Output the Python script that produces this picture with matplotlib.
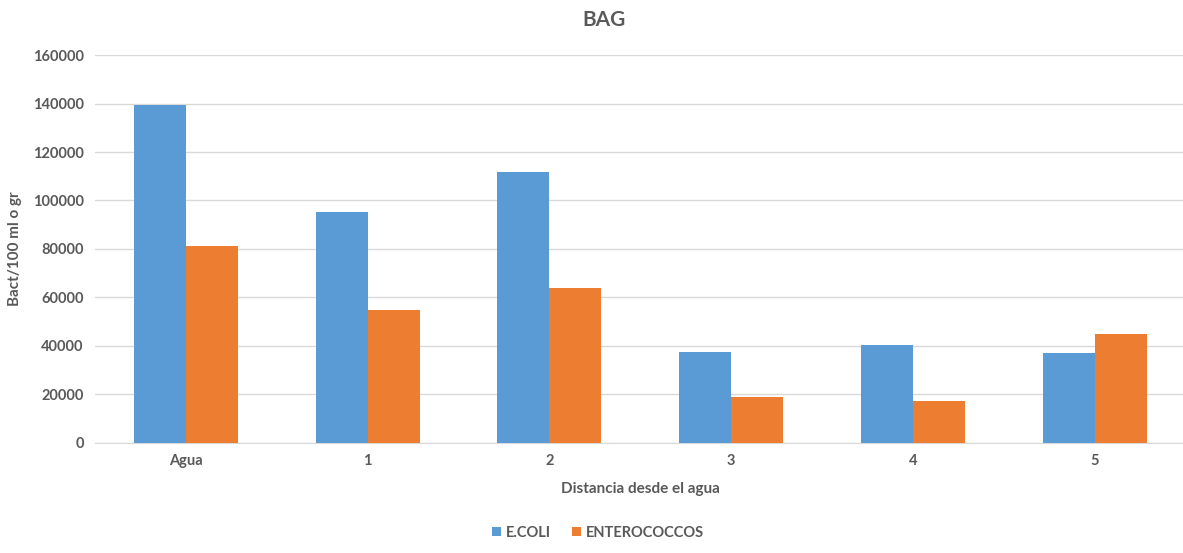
import matplotlib.pyplot as plt
import numpy as np

# Datos
categorias = ["Agua", "1", "2", "3", "4", "5"]
ecoli = [139200, 95400, 111700, 37500, 40500, 37100]
enterococcos = [81200, 54700, 64000, 19000, 17200, 45000]

azul = "#5B9BD5"
naranja = "#ED7D31"
gris = "#595959"

plt.rcParams['font.family'] = ['Lato', 'DejaVu Sans']

fig = plt.figure(figsize=(11.83, 5.53), dpi=100)
ax = fig.add_axes([0.0803, 0.199, 0.922, 0.7015])

x = np.arange(len(categorias))
ancho = 0.286
ax.bar(x - ancho / 2, ecoli, ancho, color=azul, label="E.COLI", zorder=3)
ax.bar(x + ancho / 2, enterococcos, ancho, color=naranja, label="ENTEROCOCCOS", zorder=3)

ax.set_xlim(-0.5, len(categorias) - 0.5)
ax.set_ylim(0, 160000)
ax.set_yticks(np.arange(0, 160001, 20000))
ax.set_xticks(x)
ax.set_xticklabels(categorias)

ax.grid(axis='y', color="#D9D9D9", linewidth=1, zorder=0)
for lado in ['top', 'right', 'left']:
    ax.spines[lado].set_visible(False)
ax.spines['bottom'].set_color("#D9D9D9")
ax.tick_params(axis='both', length=0, colors=gris, labelsize=10.5, pad=8)
for lab in ax.get_xticklabels() + ax.get_yticklabels():
    lab.set_fontweight('bold')

# titulo centrado en la figura, no en los ejes
fig.text(604 / 1183, 1 - 20 / 553, "BAG", fontsize=15, fontweight='bold', color=gris,
         ha='center', va='center')
ax.set_xlabel("Distancia desde el agua", fontsize=11, fontweight='bold', color=gris, labelpad=10)
ax.set_ylabel("Bact/100 ml o gr", fontsize=11, fontweight='bold', color=gris, labelpad=8)

leg = fig.legend(loc='lower center', bbox_to_anchor=(598 / 1183, 0.0), ncol=2, frameon=False,
                 handlelength=0.6, handleheight=0.6, columnspacing=1.5, handletextpad=0.3,
                 prop={'size': 10.5, 'weight': 'bold'})
for t in leg.get_texts():
    t.set_color(gris)

fig.savefig("out.png", dpi=100)
